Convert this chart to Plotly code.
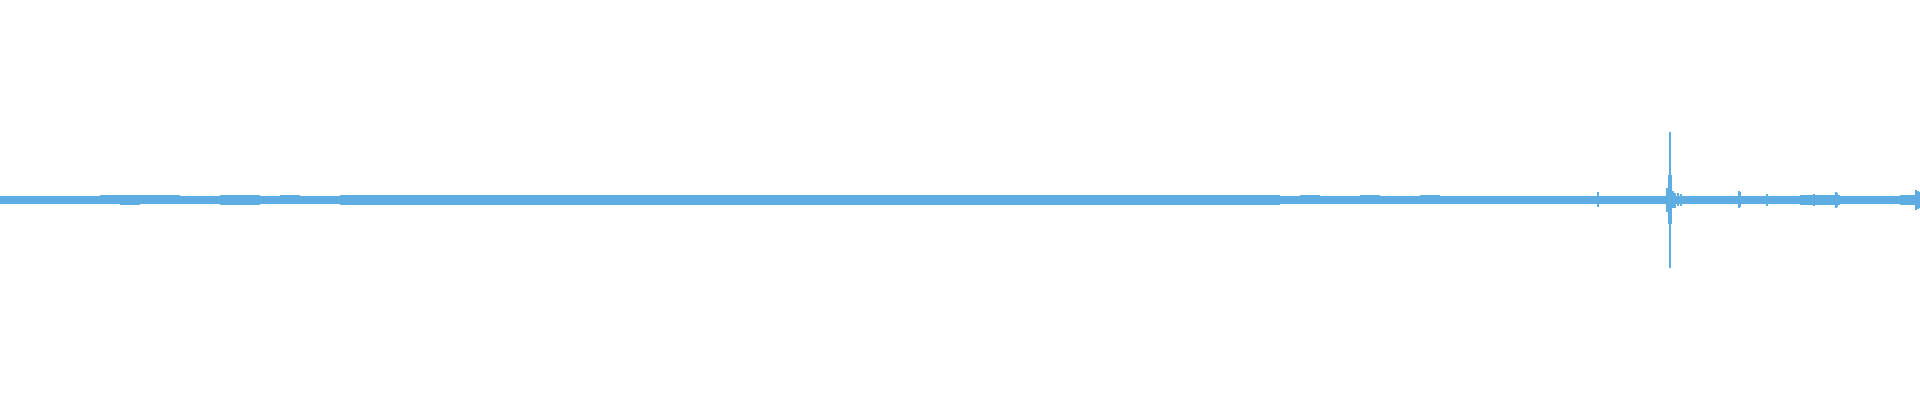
import plotly.graph_objects as go

# Waveform amplitude envelope, % of full scale, one value per 2-second block (0..192 s)
block_start = [i * 2 for i in range(96)]
upper_env = [
    1.90, 2.05, 2.15, 2.15, 2.20, 2.40, 2.50, 2.40, 2.30, 2.20, 2.20, 2.55, 2.40, 2.20, 2.30, 2.20,
    2.20, 2.30, 2.30, 2.40, 2.50, 2.50, 2.40, 2.40, 2.50, 2.40, 2.60, 2.50, 2.40, 2.40, 2.50, 2.40,
    2.50, 2.40, 2.50, 2.50, 2.60, 2.50, 2.50, 2.70, 2.60, 2.55, 2.50, 2.60, 2.60, 2.55, 2.50, 2.55,
    2.50, 2.50, 2.55, 2.50, 2.50, 2.55, 2.50, 2.40, 2.50, 2.45, 2.50, 2.55, 2.50, 2.50, 2.40, 2.40,
    2.20, 2.30, 2.20, 2.20, 2.30, 2.20, 2.20, 2.30, 2.20, 2.20, 2.10, 2.20, 2.20, 2.10, 2.10, 2.20,
    2.10, 2.10, 2.10, 2.10, 2.20, 2.05, 2.10, 2.10, 2.20, 2.20, 2.30, 2.40, 2.20, 2.20, 2.20, 2.40,
]
lower_env = [
    1.90, 2.05, 2.20, 2.15, 2.20, 2.20, 2.30, 2.20, 2.20, 2.20, 2.20, 2.40, 2.30, 2.20, 2.20, 2.15,
    2.20, 2.25, 2.30, 2.30, 2.40, 2.40, 2.35, 2.35, 2.40, 2.35, 2.50, 2.40, 2.35, 2.35, 2.40, 2.35,
    2.40, 2.35, 2.40, 2.40, 2.50, 2.40, 2.40, 2.60, 2.50, 2.45, 2.40, 2.50, 2.50, 2.45, 2.40, 2.45,
    2.40, 2.40, 2.45, 2.40, 2.40, 2.45, 2.40, 2.35, 2.40, 2.35, 2.40, 2.45, 2.40, 2.40, 2.35, 2.35,
    2.10, 2.20, 2.10, 2.10, 2.20, 2.10, 2.10, 2.20, 2.10, 2.10, 2.05, 2.10, 2.10, 2.05, 2.05, 2.10,
    2.05, 2.05, 2.05, 2.05, 2.15, 2.00, 2.05, 2.05, 2.15, 2.15, 2.25, 2.30, 2.15, 2.15, 2.15, 2.30,
]
block_len = 2.0

# Transient peaks (time s, upper %, lower %)
peak_time = [159.8, 166.7, 166.9, 167.0, 167.1, 167.3, 167.5, 167.8, 168.1, 173.9, 174.0, 176.7,
             181.4, 183.6, 183.7, 191.6, 191.8, 191.95]
peak_up = [3.8, 6.0, 12.5, 34.0, 12.5, 4.5, 3.5, 3.5, 3.0, 4.5, 4.0, 3.0,
           2.8, 4.0, 3.5, 5.0, 4.5, 4.0]
peak_down = [3.3, 6.0, 12.0, 34.0, 12.0, 4.0, 4.0, 3.0, 3.0, 4.0, 3.5, 3.0,
             2.8, 4.0, 3.5, 5.0, 4.5, 4.0]
peak_width = 0.1

color = "#5dade2"

fig = go.Figure()
fig.add_trace(go.Bar(
    x=[s + block_len / 2 for s in block_start],
    y=[u + l for u, l in zip(upper_env, lower_env)],
    base=[-l for l in lower_env],
    width=block_len,
    marker=dict(color=color, line=dict(width=0)),
    hoverinfo="skip",
))
fig.add_trace(go.Bar(
    x=peak_time,
    y=[u + l for u, l in zip(peak_up, peak_down)],
    base=[-l for l in peak_down],
    width=peak_width,
    marker=dict(color=color, line=dict(width=0)),
    hoverinfo="skip",
))

fig.update_layout(
    width=1920, height=400,
    margin=dict(l=0, r=0, t=0, b=0),
    paper_bgcolor="white", plot_bgcolor="white",
    showlegend=False, barmode="overlay", bargap=0,
    xaxis=dict(range=[0, 192], visible=False, fixedrange=True),
    yaxis=dict(range=[-100, 100], visible=False, fixedrange=True),
)
fig.write_html(
    "out.html",
    config={"displayModeBar": False},
    post_script="document.body.style.margin='0';document.body.style.overflow='hidden';",
)
